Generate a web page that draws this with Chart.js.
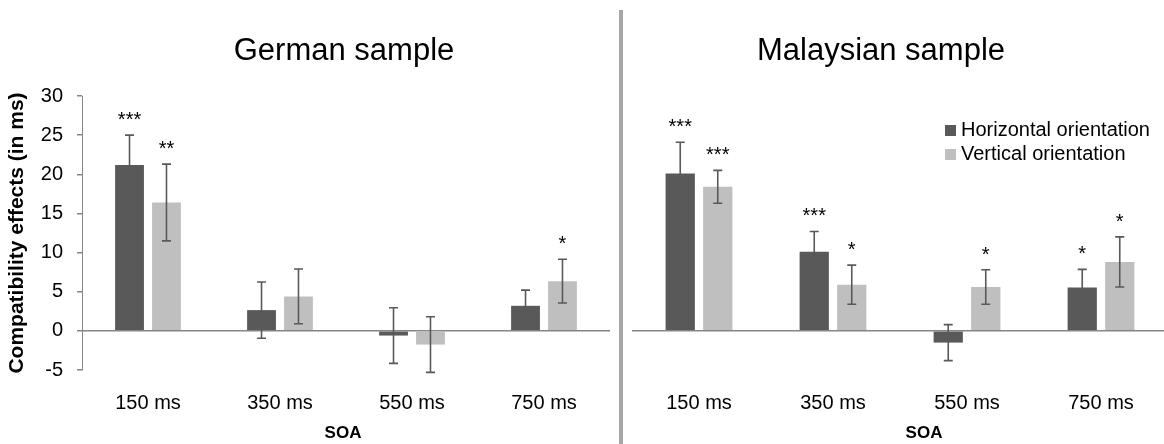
<!DOCTYPE html>
<html>
<head>
<meta charset="utf-8">
<script src="https://cdn.jsdelivr.net/npm/chart.js@4.4.0/dist/chart.umd.min.js"></script>
<style>
  html, body { margin: 0; padding: 0; background: #fff; overflow: hidden; }
  #wrap { position: relative; width: 1164px; height: 444px; overflow: hidden; }
  .panel { position: absolute; top: 0; }
  #left { left: 0; }
  #right { left: 624px; }
  #sep { position: absolute; left: 619px; top: 10px; width: 4px; height: 434px; background: #a6a6a6; }
</style>
</head>
<body>
<div id="wrap">
  <div class="panel" id="left"><canvas id="german" width="618" height="444"></canvas></div>
  <div id="sep"></div>
  <div class="panel" id="right"><canvas id="malaysian" width="544" height="444"></canvas></div>
</div>
<script>
const soaLabels = ['150 ms', '350 ms', '550 ms', '750 ms'];
const seriesNames = ['Horizontal orientation', 'Vertical orientation'];
const yMin = -5, yMax = 30, yStep = 5;

// German sample
const germanHorizontal = [21.2, 2.65, -0.6, 3.2];
const germanVertical = [16.4, 4.4, -1.75, 6.35];
const germanHorizontalErr = [3.8, 3.6, 3.55, 2.0];
const germanVerticalErr = [4.9, 3.5, 3.55, 2.8];
const germanHorizontalStars = ['***', '', '', ''];
const germanVerticalStars = ['**', '', '', '*'];

// Malaysian sample
const malaysianHorizontal = [20.1, 10.1, -1.5, 5.55];
const malaysianVertical = [18.4, 5.9, 5.6, 8.8];
const malaysianHorizontalErr = [4.0, 2.6, 2.3, 2.3];
const malaysianVerticalErr = [2.1, 2.5, 2.2, 3.2];
const malaysianHorizontalStars = ['***', '***', '', '*'];
const malaysianVerticalStars = ['***', '*', '*', '*'];

const DARK = '#595959', LIGHT = '#bfbfbf', AXIS = '#868686';
const FONT = '"Liberation Sans", Arial, sans-serif';
Chart.defaults.font.family = FONT;
Chart.defaults.color = '#000';

// error bars + significance stars, drawn from each dataset's errors/stars arrays
const errorBars = {
  id: 'errorBars',
  afterDatasetsDraw(chart) {
    const { ctx } = chart;
    const y = chart.scales.y;
    ctx.save();
    chart.data.datasets.forEach((ds, di) => {
      chart.getDatasetMeta(di).data.forEach((bar, i) => {
        const v = ds.data[i], e = ds.errors[i];
        const top = y.getPixelForValue(v + e);
        const bot = y.getPixelForValue(v - e);
        ctx.strokeStyle = DARK;
        ctx.lineWidth = 1.6;
        ctx.beginPath();
        ctx.moveTo(bar.x, top); ctx.lineTo(bar.x, bot);
        ctx.moveTo(bar.x - 4.5, top); ctx.lineTo(bar.x + 4.5, top);
        ctx.moveTo(bar.x - 4.5, bot); ctx.lineTo(bar.x + 4.5, bot);
        ctx.stroke();
        if (ds.stars[i]) {
          ctx.fillStyle = '#000';
          ctx.font = '20px ' + FONT;
          ctx.textAlign = 'center';
          ctx.textBaseline = 'alphabetic';
          ctx.fillText(ds.stars[i], bar.x, top - 9);
        }
      });
    });
    ctx.restore();
  }
};

// panel title, "SOA" axis label and (optionally) the legend
const panelText = {
  id: 'panelText',
  afterDraw(chart, args, opts) {
    const { ctx } = chart;
    ctx.save();
    ctx.fillStyle = '#000';
    ctx.textAlign = 'center';
    ctx.textBaseline = 'alphabetic';
    ctx.font = '31px ' + FONT;
    ctx.fillText(opts.title, opts.titleX, 60);
    ctx.font = 'bold 17px ' + FONT;
    ctx.fillText('SOA', opts.axisX, 438);
    if (opts.legend) {
      ctx.textAlign = 'left';
      ctx.font = '20px ' + FONT;
      chart.data.datasets.forEach((ds, i) => {
        const base = 136 + i * 24;
        ctx.fillStyle = ds.backgroundColor;
        ctx.fillRect(opts.legendX, base - 11, 11, 11);
        ctx.fillStyle = '#000';
        ctx.fillText(ds.label, opts.legendX + 16, base);
      });
    }
    ctx.restore();
  }
};

function makeChart(id, h, v, hErr, vErr, hStars, vStars, showY, text, pad) {
  return new Chart(document.getElementById(id), {
    type: 'bar',
    data: {
      labels: soaLabels,
      datasets: [
        { label: seriesNames[0], data: h, errors: hErr, stars: hStars, backgroundColor: DARK },
        { label: seriesNames[1], data: v, errors: vErr, stars: vStars, backgroundColor: LIGHT }
      ]
    },
    options: {
      responsive: false,
      animation: false,
      layout: { padding: pad },
      datasets: { bar: { categoryPercentage: 0.56, barPercentage: 0.78, borderWidth: 0 } },
      plugins: {
        legend: { display: false },
        tooltip: { enabled: false },
        panelText: text
      },
      scales: {
        x: {
          grid: { display: false },
          border: { display: false },
          ticks: { font: { size: 20 }, padding: 13 },
          afterFit: s => { s.height = 74; }
        },
        y: {
          min: yMin, max: yMax,
          ticks: { display: showY, stepSize: yStep, font: { size: 20 }, padding: 14 },
          border: { display: showY, color: AXIS, width: 1 },
          grid: {
            color: c => c.tick.value === 0 ? AXIS : 'rgba(0,0,0,0)',
            tickColor: AXIS,
            drawTicks: showY,
            tickLength: 5,
            lineWidth: 1.5
          },
          title: {
            display: showY,
            text: 'Compatibility effects (in ms)',
            font: { size: 21, weight: 'bold' },
            padding: { top: 5, bottom: 0 }
          },
          afterFit: s => { s.width = showY ? 82 : 0; }
        }
      }
    },
    plugins: [errorBars, panelText]
  });
}

makeChart('german', germanHorizontal, germanVertical, germanHorizontalErr, germanVerticalErr,
  germanHorizontalStars, germanVerticalStars, true,
  { title: 'German sample', titleX: 344, axisX: 343, legend: false },
  { top: 96, right: 8, left: 0, bottom: 0 });

makeChart('malaysian', malaysianHorizontal, malaysianVertical, malaysianHorizontalErr, malaysianVerticalErr,
  malaysianHorizontalStars, malaysianVerticalStars, false,
  { title: 'Malaysian sample', titleX: 257, axisX: 300, legend: true, legendX: 321 },
  { top: 96, right: 0, left: 8, bottom: 0 });
</script>
</body>
</html>
